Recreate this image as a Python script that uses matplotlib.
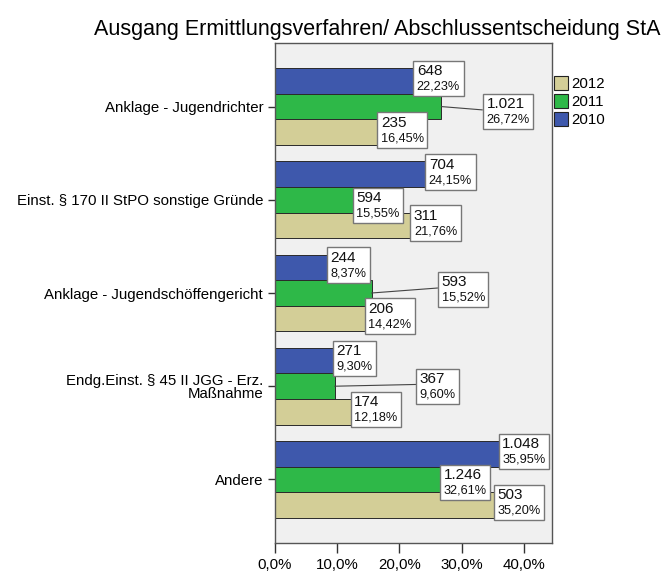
import matplotlib
matplotlib.use('Agg')
import matplotlib.pyplot as plt
from matplotlib.offsetbox import TextArea, VPacker, AnnotationBbox
from matplotlib.ticker import FuncFormatter, FixedLocator
from matplotlib.patches import Patch
import numpy as np

# ---------------- data ----------------
categories = ['Anklage - Jugendrichter',
              'Einst. § 170 II StPO sonstige Gründe',
              'Anklage - Jugendschöffengericht',
              'Endg.Einst. § 45 II JGG - Erz.\nMaßnahme',
              'Andere']
years = ['2010', '2011', '2012']
pct_2010 = [22.23, 24.15, 8.37, 9.30, 35.95]
pct_2011 = [26.72, 15.55, 15.52, 9.60, 32.61]
pct_2012 = [16.45, 21.76, 14.42, 12.18, 35.20]
cnt_2010 = [648, 704, 244, 271, 1048]
cnt_2011 = [1021, 594, 593, 367, 1246]
cnt_2012 = [235, 311, 206, 174, 503]
xticks = [0, 10, 20, 30, 40]
title = 'Ausgang Ermittlungsverfahren/ Abschlussentscheidung StA'

# ---------------- style / layout ----------------
colors = {'2010': '#3E58AC', '2011': '#2EB848', '2012': '#D3CE97'}
bar_h = 0.274
offsets = {'2010': -bar_h, '2011': 0.0, '2012': bar_h}
# label box placement for 2011 (others sit at bar end)
box_x_2011 = [33.4, 12.5, 26.2, 22.7, 26.5]
box_dy_2011 = [-0.135, -0.13, -0.225, -0.19, -0.16]
leader_2011 = [True, False, True, True, False]

plt.rcParams['font.family'] = ['Liberation Sans', 'DejaVu Sans']

fig = plt.figure(figsize=(6.65, 5.74), dpi=100)
ax = fig.add_axes([275/665, 1-543/574, 277/665, 500/574])
ax.set_facecolor('#F0F0F0')

y = np.arange(len(categories))
pcts = {'2010': pct_2010, '2011': pct_2011, '2012': pct_2012}
cnts = {'2010': cnt_2010, '2011': cnt_2011, '2012': cnt_2012}

for yr in years:
    ax.barh(y + offsets[yr], pcts[yr], height=bar_h, color=colors[yr],
            edgecolor='#2a2a2a', linewidth=0.7, zorder=2)

def fmt_cnt(n):
    return f'{n:,}'.replace(',', '.')

def fmt_pct(v):
    return f'{v:.2f}%'.replace('.', ',')

for yr in years:
    for i in range(len(categories)):
        v = pcts[yr][i]
        yc = y[i] + offsets[yr]
        if yr == '2011':
            bx, by = box_x_2011[i], yc + box_dy_2011[i]
            lead = leader_2011[i]
        else:
            bx, by = v, yc - 0.215
            lead = False
        t1 = TextArea(fmt_cnt(cnts[yr][i]), textprops=dict(fontsize=11, color='#111'))
        t2 = TextArea(fmt_pct(v), textprops=dict(fontsize=9.2, color='#111'))
        pack = VPacker(children=[t1, t2], align='left', pad=2.5, sep=1.8)
        kw = {}
        if lead:
            kw['arrowprops'] = dict(arrowstyle='-', color='#444', lw=0.8,
                                    shrinkA=0, shrinkB=0, relpos=(0, 0.55))
        ab = AnnotationBbox(pack, xy=(v, yc), xybox=(bx, by),
                            xycoords='data', boxcoords='data',
                            box_alignment=(0, 1), pad=0, frameon=True,
                            bboxprops=dict(edgecolor='#777', facecolor='white',
                                           linewidth=1.0, boxstyle='square,pad=0'),
                            zorder=5, **kw)
        ax.add_artist(ab)

ax.set_ylim(len(categories) - 1 + 0.682, -0.682)
ax.set_xlim(0, 44.5)
ax.set_yticks(y)
ax.set_yticklabels(categories, fontsize=10.8, linespacing=0.95)
ax.xaxis.set_major_locator(FixedLocator(xticks))
ax.xaxis.set_major_formatter(FuncFormatter(lambda v, p: f'{v:.1f}%'.replace('.', ',')))
ax.tick_params(axis='x', direction='out', length=7, width=1, labelsize=10.8, color='#333')
ax.tick_params(axis='y', direction='out', length=5, width=1, labelsize=10.8, color='#333')
for s in ax.spines.values():
    s.set_color('#555')
    s.set_linewidth(1)

handles = [Patch(facecolor=colors[yr], edgecolor='#222', linewidth=0.8, label=yr)
           for yr in ['2012', '2011', '2010']]
fig.legend(handles=handles, loc='upper left', bbox_to_anchor=(543/665, 1-66/574),
           frameon=False, fontsize=10.8, handlelength=0.95, handleheight=1.0,
           handletextpad=0.25, labelspacing=0.2, borderpad=0.2)

fig.text(377/665, 1-30/574, title, ha='center', va='center', fontsize=15.5)

fig.savefig('out.png', dpi=100)
